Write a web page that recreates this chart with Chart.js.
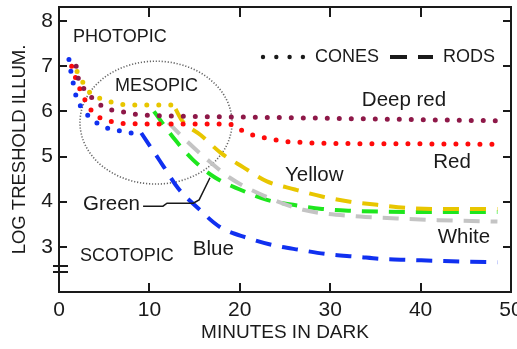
<!DOCTYPE html>
<html><head><meta charset="utf-8">
<script src="https://cdn.jsdelivr.net/npm/chart.js@4"></script>
<style>html,body{margin:0;padding:0;background:#fff}canvas{display:block}</style>
</head><body>
<canvas id="c" width="517" height="349"></canvas>
<script>
// ---- data ----
const minuteTicks = [0, 10, 20, 30, 40, 50];
const logTicks = [3, 4, 5, 6, 7, 8];

const deepRedMin = [1.9, 2.1, 2.8, 3.7, 4.8, 6.0, 7.3, 8.6, 12, 21.7, 35, 48.5];
const deepRedLog = [7.0, 6.76, 6.49, 6.29, 6.11, 6.02, 5.98, 5.93, 5.9, 5.87, 5.83, 5.79];

const redMin = [1.4, 1.8, 2.3, 3.5, 4.5, 5.9, 7.1, 12, 18.8, 19.8, 21.1, 22.6, 24.8, 27, 30.3, 40, 49.1];
const redLog = [7.0, 6.76, 6.5, 6.04, 5.86, 5.77, 5.73, 5.72, 5.72, 5.62, 5.5, 5.42, 5.34, 5.31, 5.29, 5.28, 5.27];

const yellowConeMin = [2.0, 2.65, 3.4, 4.5, 5.9, 7.1, 9.7, 12.4];
const yellowConeLog = [6.88, 6.64, 6.42, 6.29, 6.2, 6.15, 6.14, 6.14];
const yellowRodMin = [12.9, 13.6, 15.7, 17.9, 20.4, 23.0, 26.1, 29.2, 32.2, 35.2, 38.5, 41.4, 44.7, 48.5];
const yellowRodLog = [6.05, 5.8, 5.47, 5.08, 4.76, 4.45, 4.27, 4.11, 4.0, 3.93, 3.86, 3.84, 3.84, 3.84];

const greenRodMin = [10.5, 12.8, 14.8, 17.3, 20, 23, 25.9, 29.1, 32, 35.3, 40, 48.5];
const greenRodLog = [6.0, 5.38, 4.93, 4.53, 4.27, 4.04, 3.93, 3.84, 3.8, 3.78, 3.77, 3.77];

const whiteRodMin = [12.1, 14.3, 16.4, 18.9, 21.7, 27, 33.3, 36.3, 42, 48.5];
const whiteRodLog = [5.75, 5.31, 4.93, 4.53, 4.22, 3.82, 3.67, 3.64, 3.59, 3.56];

const blueConeMin = [1.1, 1.3, 1.6, 1.9, 2.4, 3.2, 4.3, 5.5, 6.9, 8.2];
const blueConeLog = [7.15, 6.9, 6.6, 6.33, 6.11, 5.91, 5.73, 5.62, 5.56, 5.51];
const blueRodMin = [9.1, 11.5, 13.2, 15.3, 17.8, 20.8, 23.6, 26.7, 29.6, 33, 35.8, 38.8, 41.8, 45.1, 48.5];
const blueRodLog = [5.52, 4.8, 4.29, 3.87, 3.44, 3.2, 3.04, 2.93, 2.84, 2.78, 2.73, 2.71, 2.69, 2.67, 2.66];

// annotations (in data coordinates)
const textNotes = [
  {text: 'PHOTOPIC', m: 1.55, v: 7.645, size: 18},
  {text: 'MESOPIC', m: 6.19, v: 6.56, size: 18},
  {text: 'SCOTOPIC', m: 2.32, v: 2.80, size: 18},
  {text: 'Deep red', m: 33.5, v: 6.25, size: 20.5},
  {text: 'Red', m: 41.4, v: 4.86, size: 20.5},
  {text: 'Yellow', m: 25.0, v: 4.59, size: 20.5},
  {text: 'White', m: 41.9, v: 3.22, size: 20.5},
  {text: 'Blue', m: 14.8, v: 2.95, size: 20.5},
  {text: 'Green', m: 2.65, v: 3.95, size: 20.5}
];
const mesopicEllipse = {m: 10.73, v: 5.75, rm: 8.41, rv: 1.36};
const greenLeaderMin = [9.3, 11.5, 11.95, 14.85, 15.5, 16.7];
const greenLeaderLog = [3.9, 3.9, 3.965, 3.965, 4.04, 4.53];
const axisBreakLog = [2.58, 2.45];

// ---- style ----
const FONT = '"Liberation Sans", Arial, sans-serif';
const INK = '#1a1a1a';
const C_DEEPRED = '#8e1848';
const C_RED = '#ff0a0a';
const C_YELLOW = '#e8c600';
const C_GREEN = '#1ee61e';
const C_WHITE = '#c4c4c4';
const C_BLUE = '#1030f0';

function pts(xs, ys) { return xs.map((x, i) => ({x: x, y: ys[i]})); }
function cones(label, xs, ys, color) {
  return {label, data: pts(xs, ys), borderColor: color, backgroundColor: color,
    borderWidth: 5, borderDash: [0, 12], borderCapStyle: 'round',
    pointRadius: 0, cubicInterpolationMode: 'monotone', fill: false};
}
function rods(label, xs, ys, color) {
  return {label, data: pts(xs, ys), borderColor: color, backgroundColor: color,
    borderWidth: 4, borderDash: [16, 11], borderCapStyle: 'butt',
    pointRadius: 0, cubicInterpolationMode: 'monotone', fill: false};
}

const decor = {
  id: 'decor',
  beforeDatasetsDraw(chart) {
    const {ctx, scales: {x, y}} = chart;
    ctx.save();
    ctx.strokeStyle = '#666';
    ctx.lineWidth = 1.6;
    ctx.setLineDash([1.2, 1.8]);
    ctx.beginPath();
    const cx = x.getPixelForValue(mesopicEllipse.m), cy = y.getPixelForValue(mesopicEllipse.v);
    const rx = x.getPixelForValue(mesopicEllipse.m + mesopicEllipse.rm) - cx;
    const ry = cy - y.getPixelForValue(mesopicEllipse.v + mesopicEllipse.rv);
    ctx.ellipse(cx, cy, rx, ry, 0, 0, Math.PI * 2);
    ctx.stroke();
    ctx.restore();
  },
  afterDatasetsDraw(chart) {
    const {ctx, chartArea: a, scales: {x, y}} = chart;
    ctx.save();
    ctx.strokeStyle = INK;
    ctx.lineWidth = 2;
    ctx.setLineDash([]);
    ctx.strokeRect(a.left, a.top, a.right - a.left, a.bottom - a.top);
    ctx.beginPath();
    minuteTicks.forEach(v => {
      if (v === 0 || v === 50) return;
      const px = Math.round(x.getPixelForValue(v));
      ctx.moveTo(px, a.bottom); ctx.lineTo(px, a.bottom - 9);
      ctx.moveTo(px, a.top); ctx.lineTo(px, a.top + 10);
    });
    logTicks.forEach(v => {
      const py = Math.round(y.getPixelForValue(v));
      ctx.moveTo(a.left, py); ctx.lineTo(a.left + 8, py);
      ctx.moveTo(a.right, py); ctx.lineTo(a.right - 8, py);
    });
    axisBreakLog.forEach(v => {
      const py = Math.round(y.getPixelForValue(v));
      ctx.moveTo(a.left - 6, py); ctx.lineTo(a.left + 9, py);
    });
    ctx.stroke();

    // green leader
    ctx.lineWidth = 1.5;
    ctx.beginPath();
    greenLeaderMin.forEach((m, i) => {
      const px = x.getPixelForValue(m), py = y.getPixelForValue(greenLeaderLog[i]);
      if (i === 0) ctx.moveTo(px, py); else ctx.lineTo(px, py);
    });
    ctx.stroke();

    // labels
    ctx.fillStyle = INK;
    ctx.textAlign = 'left';
    ctx.textBaseline = 'middle';
    textNotes.forEach(n => {
      ctx.font = n.size + 'px ' + FONT;
      ctx.fillText(n.text, x.getPixelForValue(n.m), y.getPixelForValue(n.v));
    });

    // key: cones dotted, rods dashed
    const ky = a.top + 50;
    const kx = a.left + 204;
    ctx.fillStyle = INK;
    for (let i = 0; i < 4; i++) {
      ctx.beginPath();
      ctx.arc(kx + i * 13.3, ky, 2.2, 0, Math.PI * 2);
      ctx.fill();
    }
    ctx.font = '18px ' + FONT;
    ctx.fillText('CONES', kx + 52, ky);
    ctx.lineWidth = 4;
    ctx.beginPath();
    ctx.moveTo(kx + 127, ky); ctx.lineTo(kx + 144, ky);
    ctx.moveTo(kx + 155, ky); ctx.lineTo(kx + 170, ky);
    ctx.stroke();
    ctx.fillText('RODS', kx + 180, ky);
    ctx.restore();
  }
};

new Chart(document.getElementById('c'), {
  type: 'line',
  data: {
    datasets: [
      cones('Deep red', deepRedMin, deepRedLog, C_DEEPRED),
      cones('Red', redMin, redLog, C_RED),
      cones('Yellow cones', yellowConeMin, yellowConeLog, C_YELLOW),
      rods('White', whiteRodMin, whiteRodLog, C_WHITE),
      rods('Yellow rods', yellowRodMin, yellowRodLog, C_YELLOW),
      rods('Green', greenRodMin, greenRodLog, C_GREEN),
      cones('Blue cones', blueConeMin, blueConeLog, C_BLUE),
      rods('Blue rods', blueRodMin, blueRodLog, C_BLUE)
    ]
  },
  options: {
    responsive: false,
    animation: false,
    devicePixelRatio: 1,
    layout: {padding: {top: 7, right: 6, left: 0, bottom: 0}},
    plugins: {legend: {display: false}, tooltip: {enabled: false}},
    scales: {
      x: {
        type: 'linear', min: 0, max: 50,
        afterBuildTicks: s => { s.ticks = minuteTicks.map(v => ({value: v})); },
        ticks: {font: {family: FONT, size: 21}, color: INK, padding: 6, maxRotation: 0, autoSkip: false},
        grid: {display: false, drawTicks: false},
        border: {display: false},
        title: {display: true, text: 'MINUTES IN DARK', font: {family: FONT, size: 19}, color: INK, padding: {top: 0, bottom: 5}},
        afterFit: s => { s.height = 57; s.paddingLeft = 0; s.paddingRight = 0; }
      },
      y: {
        type: 'linear', min: 2, max: 8.31,
        afterBuildTicks: s => { s.ticks = logTicks.map(v => ({value: v})); },
        ticks: {font: {family: FONT, size: 21}, color: INK, padding: 6},
        grid: {display: false, drawTicks: false},
        border: {display: false},
        title: {display: true, text: 'LOG TRESHOLD ILLUM.', font: {family: FONT, size: 18.5}, color: INK, padding: {top: 9, bottom: 0}},
        afterFit: s => { s.width = 59; s.paddingTop = 0; s.paddingBottom = 0; }
      }
    }
  },
  plugins: [decor]
});
</script></body></html>
